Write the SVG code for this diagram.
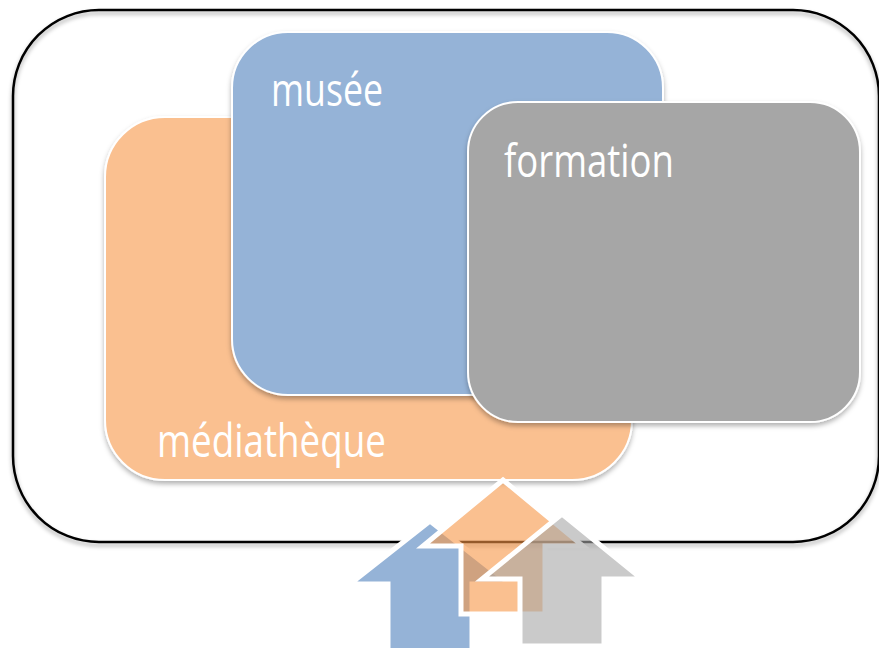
<svg xmlns="http://www.w3.org/2000/svg" width="879" height="648" viewBox="0 0 879 648">
  <defs>
    <filter id="boxShadow" x="-5%" y="-5%" width="110%" height="115%">
      <feDropShadow dx="0" dy="3" stdDeviation="2" flood-color="#000" flood-opacity="0.35"/>
    </filter>
    <filter id="cardShadow" x="-5%" y="-5%" width="110%" height="115%">
      <feDropShadow dx="0" dy="3" stdDeviation="2.5" flood-color="#000" flood-opacity="0.3"/>
    </filter>
  </defs>
  <style>
    .frame { fill: none; stroke: #000; stroke-width: 2.5; }
    .card { stroke: #fff; stroke-width: 2; }
    .orange { fill: #FAC090; }
    .blue { fill: #95B3D7; }
    .gray { fill: #A6A6A6; }
    .label { fill: #fff; font-family: "Open Sans", "Noto Sans", "DejaVu Sans", sans-serif; font-size: 46px; }
    .arrow { stroke: #fff; stroke-width: 5; stroke-linejoin: miter; }
    .a-blue { fill: #95B3D7; }
    .a-orange { fill: #F79646; fill-opacity: 0.6; }
    .a-gray { fill: #A6A6A6; fill-opacity: 0.6; }
  </style>
  <rect width="879" height="648" fill="#fff"/>

  <g id="frame">
    <rect class="frame" x="13" y="10" width="866" height="532" rx="86" ry="86" filter="url(#boxShadow)"/>
  </g>

  <g id="mediatheque">
    <rect class="card orange" x="105" y="117" width="527" height="363" rx="60" ry="60" filter="url(#cardShadow)"/>
    <text class="label" x="157" y="457" textLength="229" lengthAdjust="spacingAndGlyphs">médiathèque</text>
  </g>

  <g id="musee">
    <rect class="card blue" x="232" y="32" width="431" height="363" rx="56" ry="56" filter="url(#cardShadow)"/>
    <text class="label" x="271" y="106" textLength="112" lengthAdjust="spacingAndGlyphs">musée</text>
  </g>

  <g id="formation">
    <rect class="card gray" x="468" y="102" width="392" height="320" rx="50" ry="50" filter="url(#cardShadow)"/>
    <text class="label" x="504" y="177" textLength="170" lengthAdjust="spacingAndGlyphs">formation</text>
  </g>

  <g id="connectors">
    <path class="arrow a-blue" d="M430,521 L510,584 L472,584 L472,660 L388,660 L388,584 L350,584 Z"/>
    <path class="arrow a-orange" d="M503,480 L583,546 L545,546 L545,614 L461,614 L461,546 L423,546 Z"/>
    <path class="arrow a-gray" d="M562,514 L642,579 L604,579 L604,646 L520,646 L520,579 L482,579 Z"/>
  </g>
</svg>
